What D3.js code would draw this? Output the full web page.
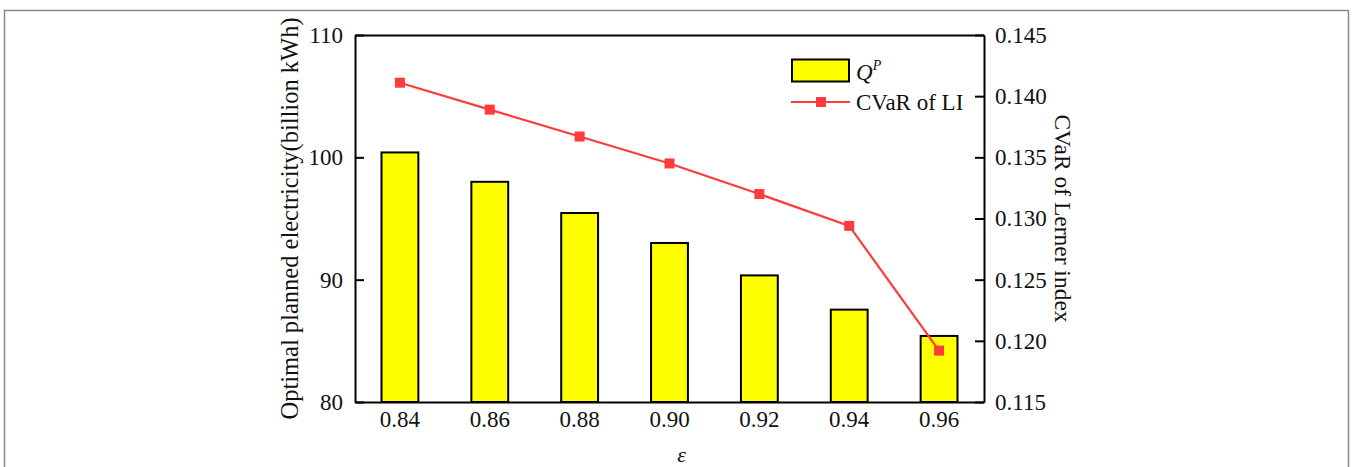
<!DOCTYPE html>
<html><head><meta charset="utf-8">
<script src="https://cdn.jsdelivr.net/npm/d3@7"></script>
<style>body{margin:0;background:#fff}svg{display:block}text{font-family:"Liberation Serif","Times New Roman",serif;fill:#111}</style>
</head><body><svg id="c" width="1352" height="467"></svg>
<script>
const categories = ["0.84","0.86","0.88","0.90","0.92","0.94","0.96"];
const qpValues = [100.4, 98.0, 95.45, 93.0, 90.35, 87.55, 85.4];
const cvarValues = [0.1411, 0.1389, 0.1367, 0.1345, 0.1320, 0.1294, 0.1192];
const leftTicks = [80, 90, 100, 110];
const rightTicks = [0.115, 0.120, 0.125, 0.130, 0.135, 0.140, 0.145];

const svg = d3.select("#c");
const L = 355, R = 984, T = 35, B = 402;
const fs = 23;

// outer frame
svg.append("rect").attr("x",4.5).attr("y",10.5).attr("width",1344).attr("height",470)
  .attr("fill","none").attr("stroke","#8a8a8a").attr("stroke-width",1.5);

const x = d3.scaleBand().domain(categories).range([L,R]).paddingInner(0.59).paddingOuter(0.295);
const yL = d3.scaleLinear().domain([80,110]).range([B,T]);
const yR = d3.scaleLinear().domain([0.115,0.145]).range([B,T]);

// bars
svg.append("g").selectAll("rect").data(categories).join("rect")
  .attr("x", d => x(d)).attr("width", x.bandwidth())
  .attr("y", (d,i) => yL(qpValues[i])).attr("height", (d,i) => B - yL(qpValues[i]))
  .attr("fill","#ffff00").attr("stroke","#000").attr("stroke-width",2);

// axes
const axL = svg.append("g").attr("transform",`translate(${L},0)`)
  .call(d3.axisLeft(yL).tickValues(leftTicks).tickSizeInner(-9).tickSizeOuter(0).tickPadding(12));
const axR = svg.append("g").attr("transform",`translate(${R},0)`)
  .call(d3.axisRight(yR).tickValues(rightTicks).tickFormat(d3.format(".3f")).tickSizeInner(-9).tickSizeOuter(0).tickPadding(11));
const axB = svg.append("g").attr("transform",`translate(0,${B})`)
  .call(d3.axisBottom(x).tickSize(0).tickPadding(9));
const axT = svg.append("g").attr("transform",`translate(0,${T})`)
  .call(d3.axisTop(x).tickSize(0).tickFormat(""));
[axL,axR,axB,axT].forEach(a=>{
  a.select(".domain").attr("stroke","#000").attr("stroke-width",2);
  a.selectAll(".tick line").attr("stroke","#000").attr("stroke-width",2);
  a.selectAll("text").style("font-size",fs+"px").attr("fill","#111").style("font-family",'"Liberation Serif",serif');
});
axB.selectAll(".tick text").attr("dy","0.71em");

// line
const line = d3.line().x((d,i)=>x(categories[i])+x.bandwidth()/2).y(d=>yR(d));
svg.append("path").datum(cvarValues).attr("d",line).attr("fill","none")
  .attr("stroke","#ff3b3b").attr("stroke-width",2.2);
svg.append("g").selectAll("rect").data(cvarValues).join("rect")
  .attr("x",(d,i)=>x(categories[i])+x.bandwidth()/2-5).attr("y",d=>yR(d)-5)
  .attr("width",10).attr("height",10).attr("fill","#ff3b3b");

// axis titles
svg.append("text").attr("transform",`translate(298,${(T+B)/2}) rotate(-90)`)
  .attr("text-anchor","middle").style("font-size","24.5px")
  .text("Optimal planned electricity(billion kWh)");
svg.append("text").attr("transform",`translate(1055,${(T+B)/2}) rotate(90)`)
  .attr("text-anchor","middle").style("font-size","23.5px")
  .text("CVaR of Lerner index");
svg.append("text").attr("x",(L+R)/2+12).attr("y",462).attr("text-anchor","middle")
  .style("font-size","22px").style("font-style","italic").text("ε");

// legend
const lg = svg.append("g");
lg.append("rect").attr("x",792).attr("y",59.5).attr("width",57).attr("height",22)
  .attr("fill","#ffff00").attr("stroke","#000").attr("stroke-width",2);
const t1 = lg.append("text").attr("x",856).attr("y",80).style("font-size",fs+"px");
t1.append("tspan").style("font-style","italic").text("Q");
t1.append("tspan").style("font-style","italic").style("font-size","14px").attr("dy",-10).text("P");
lg.append("line").attr("x1",791).attr("x2",850).attr("y1",102).attr("y2",102)
  .attr("stroke","#ff3b3b").attr("stroke-width",2.2);
lg.append("rect").attr("x",816).attr("y",97).attr("width",10).attr("height",10).attr("fill","#ff3b3b");
lg.append("text").attr("x",856).attr("y",110).style("font-size",fs+"px").text("CVaR of LI");
</script></body></html>
